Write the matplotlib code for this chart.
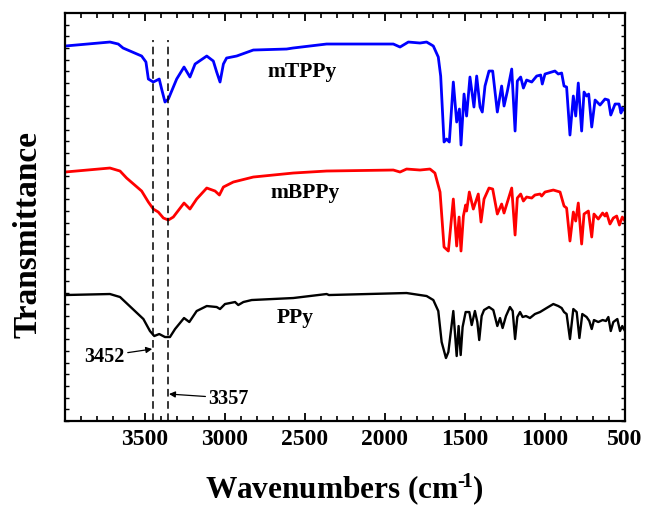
import matplotlib
matplotlib.use("Agg")
import matplotlib.pyplot as plt
from matplotlib.ticker import MultipleLocator, NullFormatter

plt.rcParams['font.family'] = ['Liberation Serif', 'DejaVu Serif']
plt.rcParams['font.weight'] = 'bold'
plt.rcParams['mathtext.fontset'] = 'custom'
plt.rcParams['mathtext.rm'] = 'Liberation Serif:bold'
plt.rcParams['mathtext.bf'] = 'Liberation Serif:bold'
plt.rcParams['mathtext.default'] = 'bf'

# wavenumber (cm-1), transmittance in arbitrary units (traces offset)
wn_mtppy = [4000, 3719, 3667, 3637, 3521, 3494, 3479, 3448, 3411, 3396, 3375, 3354, 3302, 3256,
            3219, 3187, 3114, 3073, 3052, 3031, 3010, 2990, 2927, 2823, 2615, 2575, 2365, 1948,
            1906, 1854, 1781, 1740, 1708, 1698, 1667, 1652, 1631, 1615, 1598, 1573, 1552, 1535,
            1525, 1506, 1490, 1469, 1444, 1427, 1406, 1392, 1375, 1350, 1327, 1298, 1271, 1256,
            1235, 1208, 1187, 1173, 1152, 1135, 1115, 1083, 1052, 1027, 1017, 1000, 938, 917,
            896, 881, 865, 844, 823, 808, 792, 771, 756, 740, 727, 708, 687, 656, 625, 604,
            589, 562, 537, 525, 517, 500]
t_mtppy = [375, 379, 377, 373, 365, 359, 342, 339, 342, 332, 319, 322, 342, 354,
           344, 357, 365, 360, 349, 339, 357, 363, 365, 371, 372, 373, 377, 377,
           374, 379, 378, 379, 376, 375, 364, 345, 279, 282, 279, 339, 299, 312,
           276, 327, 305, 344, 314, 345, 314, 309, 335, 350, 350, 309, 335, 315,
           330, 352, 290, 340, 344, 333, 341, 339, 345, 346, 337, 347, 350, 347,
           348, 335, 334, 286, 325, 305, 338, 290, 329, 325, 327, 294, 321, 316, 322, 321,
           306, 317, 317, 308, 313, 310]

wn_mbppy = [4000, 3719, 3656, 3615, 3521, 3479, 3448, 3417, 3385, 3354, 3323, 3256, 3219, 3177,
            3114, 3062, 3035, 3010, 2948, 2823, 2573, 2365, 1948, 1906, 1865, 1781, 1719, 1688,
            1656, 1631, 1604, 1573, 1552, 1537, 1525, 1510, 1496, 1490, 1473, 1448, 1417, 1400,
            1381, 1350, 1327, 1298, 1271, 1256, 1235, 1208, 1187, 1173, 1152, 1135, 1115, 1083,
            1063, 1031, 1021, 1000, 948, 906, 881, 865, 844, 823, 808, 792, 771, 756, 729,
            708, 694, 667, 640, 625, 615, 594, 573, 552, 535, 517, 500]
t_mbppy = [249, 253, 250, 243, 230, 219, 212, 209, 203, 201, 204, 218, 212, 222,
           233, 230, 226, 234, 239, 244, 248, 250, 251, 249, 252, 251, 252, 248,
           229, 174, 170, 222, 175, 204, 170, 205, 216, 210, 229, 212, 227, 199,
           222, 233, 232, 207, 217, 208, 219, 233, 186, 223, 227, 220, 224, 223,
           226, 227, 225, 229, 231, 229, 215, 213, 180, 209, 200, 218, 177, 207, 210,
           184, 207, 202, 208, 205, 208, 197, 203, 205, 196, 204, 200]

wn_ppy = [4000, 3719, 3656, 3510, 3469, 3442, 3411, 3375, 3344, 3312, 3256, 3223, 3177, 3114,
          3052, 3031, 3000, 2937, 2917, 2885, 2833, 2573, 2365, 2350, 1865, 1740, 1698, 1667,
          1646, 1619, 1604, 1573, 1552, 1540, 1527, 1515, 1496, 1473, 1458, 1438, 1423, 1411,
          1396, 1381, 1350, 1323, 1298, 1281, 1265, 1244, 1219, 1202, 1187, 1173, 1156, 1140,
          1119, 1094, 1063, 1031, 990, 948, 917, 896, 881, 865, 844, 823, 802, 785, 767,
          740, 723, 708, 694, 667, 640, 619, 604, 589, 573, 548, 531, 517, 500]
t_ppy = [126, 127, 124, 102, 90, 85, 87, 84, 84, 92, 103, 99, 110, 115,
         114, 112, 117, 119, 116, 119, 121, 123, 127, 126, 128, 125, 121, 110,
         79, 63, 69, 110, 65, 95, 66, 94, 109, 109, 96, 110, 99, 81,
         105, 111, 114, 111, 95, 103, 93, 105, 114, 110, 82, 104, 109, 104,
         105, 103, 107, 109, 113, 117, 115, 113, 109, 107, 82, 112, 109, 83, 107,
         104, 100, 92, 101, 99, 101, 100, 104, 90, 99, 102, 90, 95, 90]

peaks = [3452, 3357]

fig = plt.figure(figsize=(6.46, 5.10), dpi=100)
ax = fig.add_axes([0.1006, 0.1725, 0.8669, 0.8])

ax.plot(wn_mtppy, t_mtppy, color='#0000ff', lw=2.0)
ax.plot(wn_mbppy, t_mbppy, color='#ff0000', lw=2.0)
ax.plot(wn_ppy, t_ppy, color='black', lw=1.7)

for p in peaks:
    ax.plot([p, p], [0, 381], color='black', lw=1.1, dashes=(5, 3))

ax.text(2519, 350, 'mTPPy', fontsize=15.5, fontweight='bold', ha='center', va='center')
ax.text(2500, 229, 'mBPPy', fontsize=15.5, fontweight='bold', ha='center', va='center')
ax.text(2562, 104, 'PPy', fontsize=15.5, fontweight='bold', ha='center', va='center')

arrow = dict(arrowstyle='-|>', color='black', lw=0.9, mutation_scale=9, shrinkA=0, shrinkB=0)
ax.annotate('3452', xy=(3455, 72), xytext=(3625, 65), fontsize=14.5, fontweight='bold',
            ha='right', va='center', arrowprops=arrow)
ax.annotate('3357', xy=(3350, 27), xytext=(3105, 23), fontsize=14.5, fontweight='bold',
            ha='left', va='center', arrowprops=arrow)

ax.set_xlim(4000, 500)
ax.set_ylim(0, 408)
ax.xaxis.set_major_locator(MultipleLocator(500))
ax.xaxis.set_minor_locator(MultipleLocator(100))
ax.set_xticks([3500, 3000, 2500, 2000, 1500, 1000, 500])
ax.yaxis.set_major_locator(MultipleLocator(11.66))
ax.yaxis.set_major_formatter(NullFormatter())
ax.tick_params(axis='both', which='both', direction='in', top=True, right=True)
ax.tick_params(axis='x', which='major', length=6, width=1.3, labelsize=17, pad=5)
ax.tick_params(axis='x', which='minor', length=3.5, width=1.2)
ax.tick_params(axis='y', which='major', length=3, width=1.0)
for lab in ax.get_xticklabels():
    lab.set_fontweight('bold')
for s in ax.spines.values():
    s.set_linewidth(1.6)

fig.text(0.534, 0.04, 'Wavenumbers (cm$^{\u2010\\!1}$)', fontsize=22.5, fontweight='bold',
         ha='center', va='center')
fig.text(0.044, 0.54, 'Transmittance', fontsize=24, fontweight='bold', rotation=90,
         ha='center', va='center')

fig.savefig('out.png', dpi=100)
